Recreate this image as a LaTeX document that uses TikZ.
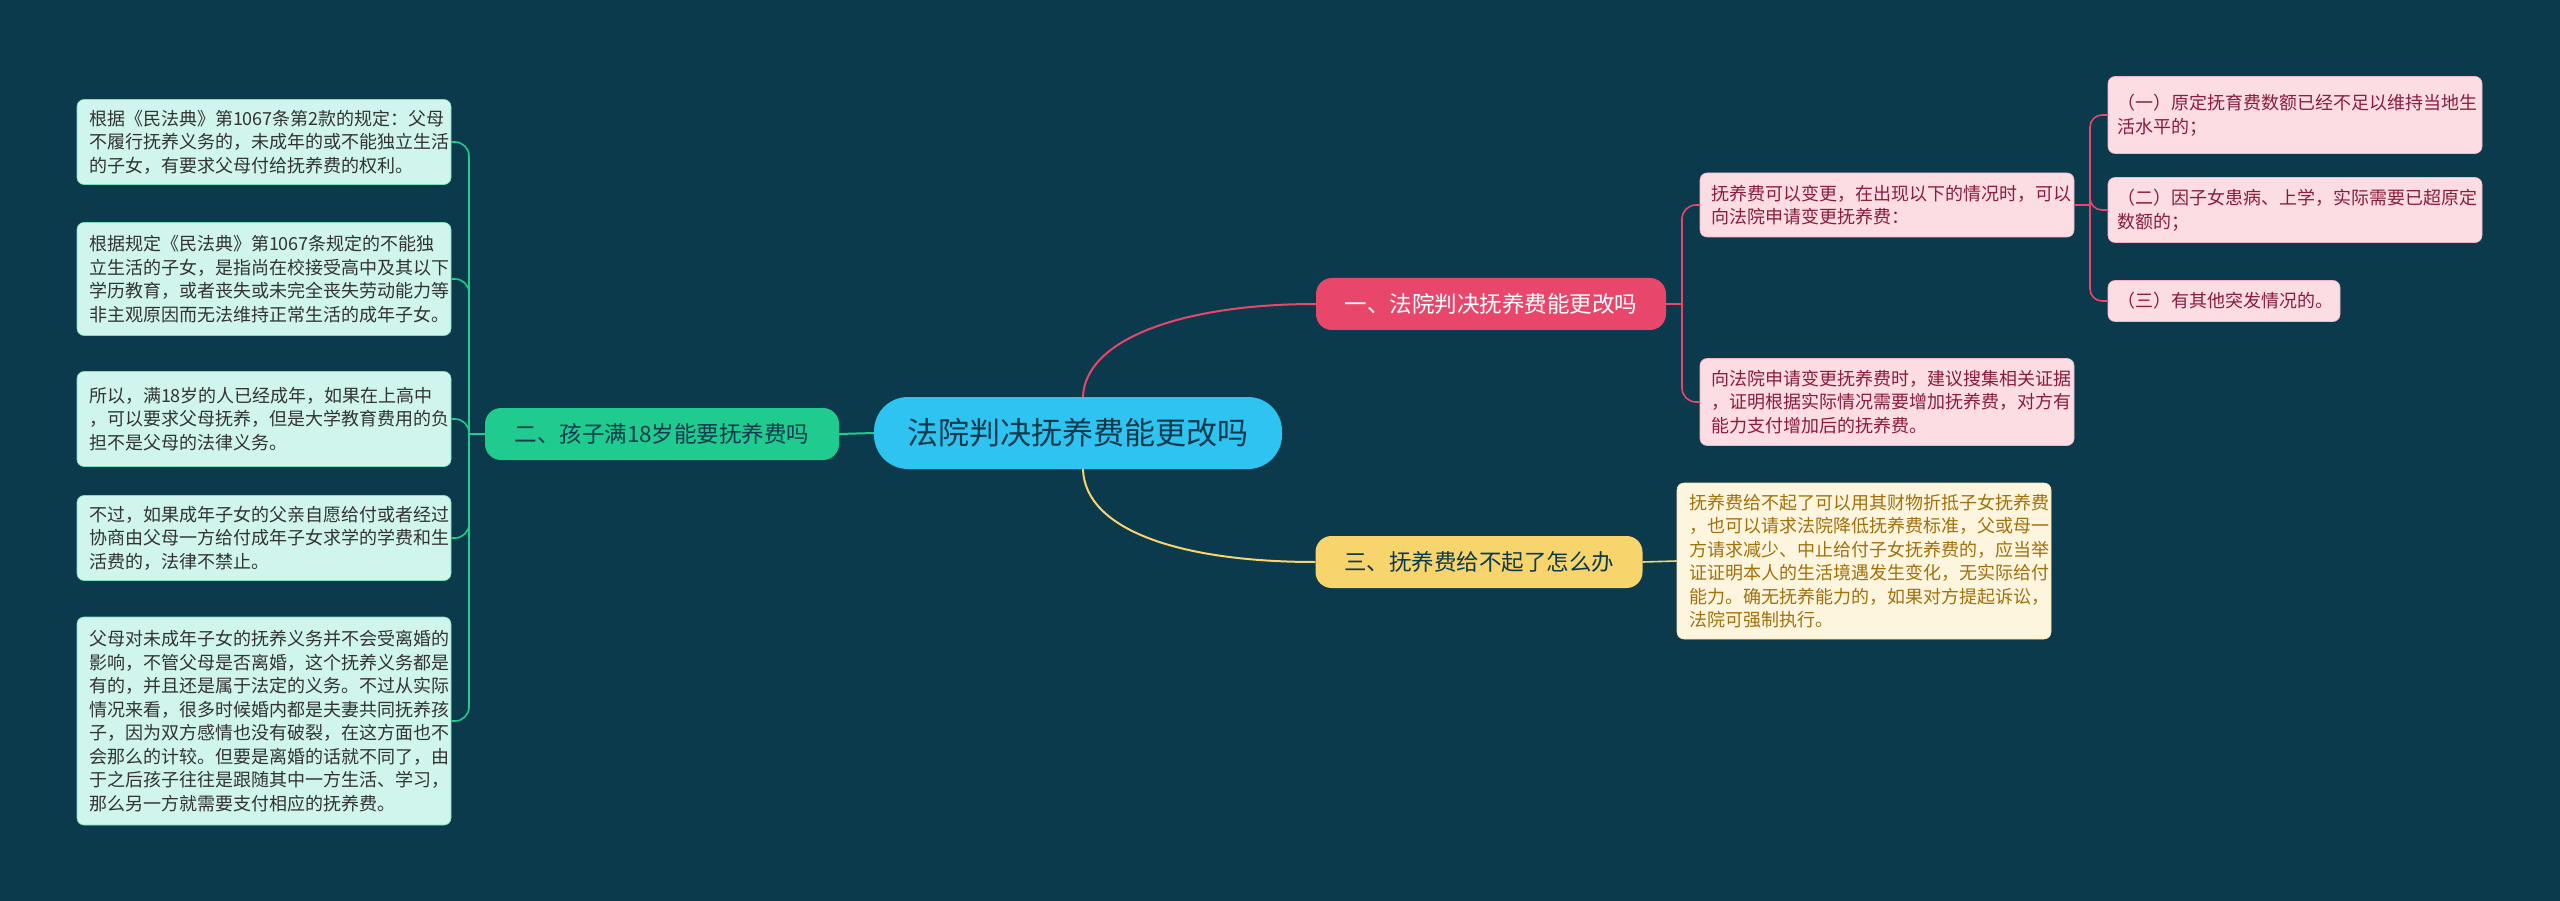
\documentclass[tikz,border=0pt]{standalone}
\usepackage{fontspec}
\setmainfont{Noto Sans CJK SC}
\definecolor{bg}{HTML}{0B3A4C}
\definecolor{cc}{HTML}{2EC3F0}
\definecolor{rr}{HTML}{E8476B}
\definecolor{gg}{HTML}{1FCB8F}
\definecolor{yy}{HTML}{F8D46C}
\definecolor{gleaf}{HTML}{CFF5EC}
\definecolor{pleaf}{HTML}{FCDDE4}
\definecolor{ptext}{HTML}{8A1C3C}
\definecolor{yleaf}{HTML}{FDF5DD}
\definecolor{ytext}{HTML}{A2700C}
\tikzset{
 lf/.style={rounded corners=7pt,inner sep=0pt,align=left,font=\fontsize{18}{23.5}\selectfont},
 gleafbox/.style={lf,fill=gleaf,draw=gg!60,line width=0.6pt,text=black!80,text width=350pt},
 pleafbox/.style={lf,fill=pleaf,draw=rr!40,line width=0.6pt,text=ptext},
 yleafbox/.style={lf,fill=yleaf,draw=yy!60,line width=0.6pt,text=ytext,text width=350pt},
 br/.style={rounded corners=16pt,inner sep=0pt,font=\fontsize{22.5}{26}\selectfont},
 conn/.style={line width=2pt}
}
\begin{document}
\begin{tikzpicture}[x=1pt,y=-1pt]
\useasboundingbox[fill=bg] (0,0) rectangle (2560,901);
% center
\node[br,fill=cc,text=bg,minimum width=408pt,minimum height=72pt,rounded corners=34pt,font=\fontsize{31}{34}\selectfont] (c) at (1078,433) {法院判决抚养费能更改吗};
% branches
\node[br,fill=rr,text=white,minimum width=350pt,minimum height=52pt] (b1) at (1491,304) {一、法院判决抚养费能更改吗};
\node[br,fill=gg,text=bg,minimum width=354pt,minimum height=52pt] (b2) at (662,434) {二、孩子满18岁能要抚养费吗};
\node[br,fill=yy,text=bg,minimum width=327pt,minimum height=52pt] (b3) at (1479,562) {三、抚养费给不起了怎么办};
% right pink
\node[pleafbox,minimum width=374pt,minimum height=64pt,text width=352pt] (r1) at (1887,205) {抚养费可以变更，在出现以下的情况时，可以\\向法院申请变更抚养费：};
\node[pleafbox,minimum width=374pt,minimum height=87pt,text width=352pt] (r2) at (1887,402) {向法院申请变更抚养费时，建议搜集相关证据\\，证明根据实际情况需要增加抚养费，对方有\\能力支付增加后的抚养费。};
\node[pleafbox,minimum width=374pt,minimum height=77pt,text width=356pt] (s1) at (2295,115) {（一）原定抚育费数额已经不足以维持当地生\\活水平的；};
\node[pleafbox,minimum width=374pt,minimum height=65pt,text width=356pt] (s2) at (2295,210) {（二）因子女患病、上学，实际需要已超原定\\数额的；};
\node[pleafbox,minimum width=232pt,minimum height=41pt,text width=214pt] (s3) at (2224,301) {（三）有其他突发情况的。};
% yellow
\node[yleafbox,minimum width=374pt,minimum height=156pt] (y1) at (1864,561) {抚养费给不起了可以用其财物折抵子女抚养费\\，也可以请求法院降低抚养费标准，父或母一\\方请求减少、中止给付子女抚养费的，应当举\\证证明本人的生活境遇发生变化，无实际给付\\能力。确无抚养能力的，如果对方提起诉讼，\\法院可强制执行。};
% left green
\node[gleafbox,minimum width=374pt,minimum height=85pt] (l1) at (264,142) {根据《民法典》第1067条第2款的规定：父母\\不履行抚养义务的，未成年的或不能独立生活\\的子女，有要求父母付给抚养费的权利。};
\node[gleafbox,minimum width=374pt,minimum height=113pt] (l2) at (264,279) {根据规定《民法典》第1067条规定的不能独\\立生活的子女，是指尚在校接受高中及其以下\\学历教育，或者丧失或未完全丧失劳动能力等\\非主观原因而无法维持正常生活的成年子女。};
\node[gleafbox,minimum width=374pt,minimum height=95pt] (l3) at (264,419) {所以，满18岁的人已经成年，如果在上高中\\，可以要求父母抚养，但是大学教育费用的负\\担不是父母的法律义务。};
\node[gleafbox,minimum width=374pt,minimum height=85pt] (l4) at (264,538) {不过，如果成年子女的父亲自愿给付或者经过\\协商由父母一方给付成年子女求学的学费和生\\活费的，法律不禁止。};
\node[gleafbox,minimum width=374pt,minimum height=208pt] (l5) at (264,721) {父母对未成年子女的抚养义务并不会受离婚的\\影响，不管父母是否离婚，这个抚养义务都是\\有的，并且还是属于法定的义务。不过从实际\\情况来看，很多时候婚内都是夫妻共同抚养孩\\子，因为双方感情也没有破裂，在这方面也不\\会那么的计较。但要是离婚的话就不同了，由\\于之后孩子往往是跟随其中一方生活、学习，\\那么另一方就需要支付相应的抚养费。};
% center connectors
\draw[conn,rr] ([xshift=5pt]c.north) .. controls (1085,340) and (1180,304) .. (b1.west);
\draw[conn,gg] (c.west) -- (b2.east);
\draw[conn,yy] ([xshift=5pt]c.south) .. controls (1085,530) and (1180,562) .. (b3.west);
% branch1 bracket
\draw[conn,rr,line width=1.6pt] (b1.east) -- (1682,304);
\draw[conn,rr,line width=1.6pt,rounded corners=14pt] (1682,304) |- (r1.west);
\draw[conn,rr,line width=1.6pt,rounded corners=14pt] (1682,304) |- (r2.west);
\draw[conn,rr,line width=1.6pt] (r1.east) -- (2090,205);
\foreach \t in {s1,s2,s3}
 \draw[conn,rr,line width=1.6pt,rounded corners=12pt] (2090,205) |- (\t.west);
% branch3
\draw[conn,yy,line width=1.6pt] (b3.east) -- (y1.west);
% branch2 bracket
\draw[conn,gg,line width=1.6pt] (b2.west) -- (469,434);
\foreach \t/\yy in {l1/142,l2/290,l3/425,l4/540,l5/721}
 \draw[conn,gg,line width=1.6pt,rounded corners=14pt] (469,434) |- (\t.east);
\end{tikzpicture}
\end{document}
